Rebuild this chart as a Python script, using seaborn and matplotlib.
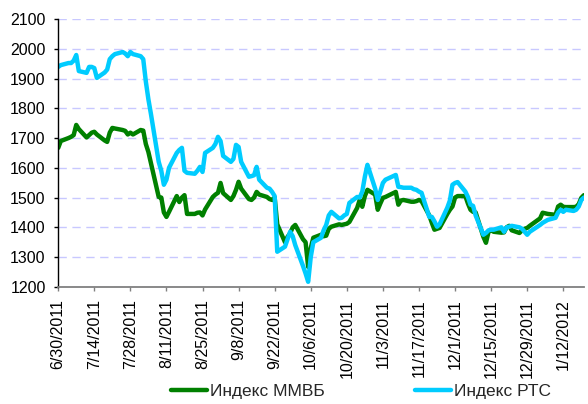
import pandas as pd
import matplotlib
matplotlib.use("Agg")
import matplotlib.pyplot as plt
import matplotlib.dates as mdates
import seaborn as sns

# данные (торговые дни)
dates = [
    "2011-06-30", "2011-07-01", "2011-07-04", "2011-07-05", "2011-07-06", "2011-07-07", "2011-07-08",
    "2011-07-11", "2011-07-12", "2011-07-13", "2011-07-14", "2011-07-15",
    "2011-07-18", "2011-07-19", "2011-07-20", "2011-07-21", "2011-07-22",
    "2011-07-25", "2011-07-26", "2011-07-27", "2011-07-28", "2011-07-29",
    "2011-08-01", "2011-08-02", "2011-08-03", "2011-08-04", "2011-08-05",
    "2011-08-08", "2011-08-09", "2011-08-10", "2011-08-11", "2011-08-12",
    "2011-08-15", "2011-08-16", "2011-08-17", "2011-08-18", "2011-08-19",
    "2011-08-22", "2011-08-23", "2011-08-24", "2011-08-25", "2011-08-26",
    "2011-08-29", "2011-08-30", "2011-08-31", "2011-09-01", "2011-09-02",
    "2011-09-05", "2011-09-06", "2011-09-07", "2011-09-08", "2011-09-09",
    "2011-09-12", "2011-09-13", "2011-09-14", "2011-09-15", "2011-09-16",
    "2011-09-19", "2011-09-20", "2011-09-21", "2011-09-22", "2011-09-23",
    "2011-09-26", "2011-09-27", "2011-09-28", "2011-09-29", "2011-09-30",
    "2011-10-03", "2011-10-04", "2011-10-05", "2011-10-06", "2011-10-07",
    "2011-10-10", "2011-10-11", "2011-10-12", "2011-10-13", "2011-10-14",
    "2011-10-17", "2011-10-18", "2011-10-19", "2011-10-20", "2011-10-21",
    "2011-10-24", "2011-10-25", "2011-10-26", "2011-10-27", "2011-10-28",
    "2011-10-31", "2011-11-01", "2011-11-02", "2011-11-03", "2011-11-04",
    "2011-11-07", "2011-11-08", "2011-11-09", "2011-11-10", "2011-11-11",
    "2011-11-14", "2011-11-15", "2011-11-16", "2011-11-17", "2011-11-18",
    "2011-11-21", "2011-11-22", "2011-11-23", "2011-11-24", "2011-11-25",
    "2011-11-28", "2011-11-29", "2011-11-30", "2011-12-01", "2011-12-02",
    "2011-12-05", "2011-12-06", "2011-12-07", "2011-12-08", "2011-12-09",
    "2011-12-12", "2011-12-13", "2011-12-14", "2011-12-15", "2011-12-16",
    "2011-12-19", "2011-12-20", "2011-12-21", "2011-12-22", "2011-12-23",
    "2011-12-26", "2011-12-27", "2011-12-28", "2011-12-29", "2011-12-30",
    "2012-01-03", "2012-01-04", "2012-01-05", "2012-01-06",
    "2012-01-09", "2012-01-10", "2012-01-11", "2012-01-12", "2012-01-13",
    "2012-01-16", "2012-01-17", "2012-01-18", "2012-01-19", "2012-01-20",
]

micex = [
    1667, 1690, 1700, 1704, 1710, 1744, 1730,
    1702, 1710, 1718, 1721, 1712,
    1692, 1687, 1718, 1734, 1732,
    1727, 1724, 1712, 1718, 1712,
    1727, 1725, 1680, 1653, 1615,
    1502, 1500, 1450, 1435, 1452,
    1505, 1485, 1500, 1508, 1445,
    1445, 1449, 1450, 1440, 1460,
    1502, 1510, 1516, 1549, 1515,
    1492, 1505, 1526, 1553, 1530,
    1495, 1492, 1500, 1519, 1510,
    1502, 1495, 1492, 1500, 1410,
    1350, 1368, 1380, 1400, 1408,
    1360, 1350, 1267, 1330, 1365,
    1375, 1370, 1372, 1395, 1402,
    1410, 1408, 1410, 1412, 1418,
    1465, 1492, 1469, 1505, 1526,
    1510, 1459, 1480, 1499, 1502,
    1515, 1519, 1476, 1490, 1492,
    1486, 1486, 1488, 1492, 1488,
    1440, 1415, 1392, 1395, 1398,
    1445, 1459, 1470, 1500, 1505,
    1505, 1480, 1459, 1452, 1450,
    1368, 1348, 1385, 1390, 1385,
    1382, 1383, 1400, 1405, 1390,
    1381, 1390, 1395, 1398, 1405,
    1430, 1449, 1447, 1445,
    1442, 1470, 1476, 1469, 1468,
    1468, 1469, 1478, 1499, 1508,
]

rts = [
    1939, 1945, 1952, 1952, 1960, 1979, 1925,
    1919, 1939, 1939, 1935, 1902,
    1920, 1930, 1965, 1975, 1982,
    1989, 1984, 1975, 1989, 1982,
    1975, 1965, 1890, 1830, 1780,
    1620, 1590, 1543, 1560, 1600,
    1650, 1660, 1667, 1590, 1583,
    1580, 1590, 1603, 1586, 1650,
    1667, 1680, 1704, 1690, 1640,
    1620, 1630, 1677, 1670, 1620,
    1570, 1572, 1575, 1603, 1560,
    1533, 1530, 1519, 1505, 1318,
    1335, 1360, 1385, 1370, 1340,
    1270, 1245, 1217, 1300, 1350,
    1365, 1390, 1408, 1440, 1452,
    1430, 1432, 1440, 1445, 1482,
    1502, 1500, 1520, 1570, 1610,
    1530, 1492, 1520, 1549, 1560,
    1572, 1576, 1536, 1535, 1533,
    1533, 1528, 1526, 1520, 1516,
    1435, 1435, 1420, 1402, 1410,
    1466, 1490, 1543, 1549, 1552,
    1520, 1502, 1476, 1472, 1440,
    1375, 1381, 1390, 1392, 1392,
    1400, 1385, 1400, 1402, 1405,
    1400, 1395, 1385, 1375, 1385,
    1408, 1415, 1420, 1425,
    1432, 1450, 1459, 1452, 1459,
    1455, 1459, 1470, 1492, 1500,
]

series_names = ["Индекс ММВБ", "Индекс РТС"]
colors = ["#008000", "#00CCFF"]
tick_dates = pd.date_range("2011-06-30", "2012-01-20", freq="14D")

df = pd.DataFrame({"date": pd.to_datetime(dates), series_names[0]: micex, series_names[1]: rts})
long = df.melt(id_vars="date", var_name="index", value_name="value")

sns.set_style("white")
plt.rcParams["font.family"] = ["Liberation Sans", "DejaVu Sans"]

fig = plt.figure(figsize=(5.88, 4.04), dpi=100)
ax = fig.add_axes([0.099, 0.29, 0.894, 0.663])

sns.lineplot(data=long, x="date", y="value", hue="index", hue_order=series_names,
             palette=colors, linewidth=3.2, ax=ax)

ax.set_ylim(1200, 2100)
ax.set_yticks(range(1200, 2101, 100))
ax.set_xlim(pd.Timestamp("2011-06-30"), pd.Timestamp("2012-01-20"))
ax.set_xticks(tick_dates)
ax.xaxis.set_major_formatter(plt.FuncFormatter(
    lambda v, p: (lambda d: f"{d.month}/{d.day}/{d.year}")(mdates.num2date(v))))
plt.setp(ax.get_xticklabels(), rotation=90)
ax.tick_params(axis="both", labelsize=11.5, length=3, width=1, direction="out",
               bottom=True, left=True, colors="black", pad=6)
ax.tick_params(axis="x", color="#808080")
ax.set_xlabel("")
ax.set_ylabel("")

ax.yaxis.grid(True, color="#c8c8ff", linestyle=(0, (6, 4)), linewidth=1)
ax.set_axisbelow(True)
for s in ["top", "right"]:
    ax.spines[s].set_visible(False)
ax.spines["left"].set_color("black")
ax.spines["bottom"].set_color("#808080")
ax.spines["left"].set_linewidth(1)
ax.spines["bottom"].set_linewidth(1.3)

ax.legend(loc="center", bbox_to_anchor=(0.576, -0.39), ncol=2, frameon=False,
          fontsize=12.5, handlelength=2.1, handletextpad=0.15, columnspacing=5.2)

fig.savefig("out.png", dpi=100)
